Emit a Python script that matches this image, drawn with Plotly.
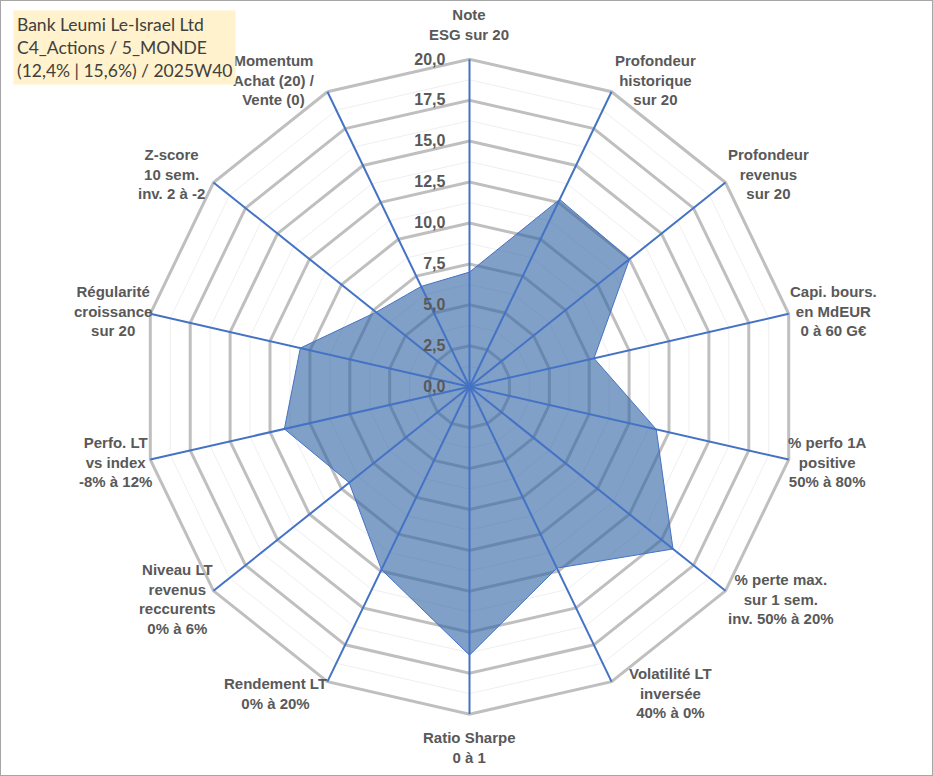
import math
import plotly.graph_objects as go

# Axes of the radar (clockwise from the top)
categories = [
    "Note<br>ESG sur 20",
    "Profondeur<br>historique<br>sur 20",
    "Profondeur<br>revenus<br>sur 20",
    "Capi. bours.<br>en MdEUR<br>0 à 60 G€",
    "% perfo 1A<br>positive<br>50% à 80%",
    "% perte max.<br>sur 1 sem.<br>inv. 50% à 20%",
    "Volatilité LT<br>inversée<br>40% à 0%",
    "Ratio Sharpe<br>0 à 1",
    "Rendement LT<br>0% à 20%",
    "Niveau LT<br>revenus<br>reccurents<br>0% à 6%",
    "Perfo. LT<br>vs index<br>-8% à 12%",
    "Régularité<br>croissance<br>sur 20",
    "Z-score<br>10 sem.<br>inv. 2 à -2",
    "Momentum<br>Achat (20) /<br>Vente (0)",
]
scores = [7.0, 12.7, 12.5, 7.8, 11.7, 15.9, 12.3, 16.4, 12.4, 9.4, 11.6, 10.6, 7.3, 6.8]

title_lines = [
    "Bank Leumi Le-Israel Ltd",
    "C4_Actions / 5_MONDE",
    "(12,4% | 15,6%) / 2025W40",
]

W, H = 933, 776
cx, cy, R = 469.5, 386.7, 327.4
dom_x = [(cx - R) / W, (cx + R) / W]
dom_y = [(H - cy - R) / H, (H - cy + R) / H]

# small horizontal nudges (px) for the category labels, same order as categories
label_nudge = [0, 0, 0, -2, -4, 0, 14, 0, -2, 0, 0, 0, -11, -14]

grey = "#595959"
closed_theta = categories + categories[:1]
closed_r = scores + scores[:1]

fig = go.Figure()

# filled series, on the middle subplot
fig.add_trace(go.Scatterpolar(
    r=closed_r, theta=closed_theta, subplot="polar2",
    mode="lines", fill="toself",
    fillcolor="rgba(52,101,164,0.62)",
    line=dict(color="#4472C4", width=1),
    hoverinfo="r+theta", showlegend=False,
))
# invisible traces so the other subplots get the same categories
for sp in ["polar", "polar3"]:
    fig.add_trace(go.Scatterpolar(
        r=[0] * len(categories), theta=categories, subplot=sp,
        mode="lines", line=dict(width=0), hoverinfo="skip", showlegend=False,
    ))

base_angular = dict(type="category", rotation=90, direction="clockwise",
                    categoryorder="array", categoryarray=categories)

fig.update_layout(
    width=W, height=H,
    margin=dict(l=0, r=0, t=0, b=0),
    paper_bgcolor="white",
    separators=", ",
    font=dict(family="Liberation Sans, Arial", color=grey),
    # bottom: faint minor rings + white background
    polar=dict(
        domain=dict(x=dom_x, y=dom_y),
        gridshape="linear",
        bgcolor="white",
        radialaxis=dict(range=[0, 20], dtick=1.25, tick0=0, showticklabels=False,
                        ticks="", showline=False, gridcolor="#EFEFEF", gridwidth=1),
        angularaxis=dict(**base_angular, showticklabels=False, ticks="",
                         showgrid=False, showline=False),
    ),
    # middle: major rings + data
    polar2=dict(
        domain=dict(x=dom_x, y=dom_y),
        gridshape="linear",
        bgcolor="rgba(0,0,0,0)",
        radialaxis=dict(range=[0, 20], dtick=2.5, tick0=0, showticklabels=False,
                        ticks="", showline=False, gridcolor="#BFBFBF", gridwidth=3),
        angularaxis=dict(**base_angular, showticklabels=False, ticks="",
                         showgrid=False, showline=True, linecolor="#BFBFBF", linewidth=3),
    ),
    # top: blue spokes and radial tick labels
    polar3=dict(
        domain=dict(x=dom_x, y=dom_y),
        gridshape="linear",
        bgcolor="rgba(0,0,0,0)",
        radialaxis=dict(range=[0, 20], dtick=2.5, tick0=0, tickformat=".1f",
                        angle=90, tickangle=90, side="counterclockwise",
                        ticks="outside", ticklen=18, tickcolor="rgba(0,0,0,0)",
                        showline=False, showgrid=False,
                        tickfont=dict(size=16, color=grey, weight="bold")),
        angularaxis=dict(**base_angular, showticklabels=False, ticks="", showline=False,
                         showgrid=True, gridcolor="#4472C4", gridwidth=1.5),
    ),
)

# category labels placed next to each outer vertex, Excel style
n = len(categories)
for i, label in enumerate(categories):
    a = math.radians(i * 360 / n)
    vx = cx + R * math.sin(a)
    vy = cy - R * math.cos(a)
    s, c = math.sin(a), math.cos(a)
    if abs(s) < 0.1:
        xanchor, xshift = "center", 0
        yanchor = "bottom" if c > 0 else "top"
        yshift = 14 if c > 0 else -13
    else:
        xanchor = "left" if s > 0 else "right"
        xshift = 1 if s > 0 else 4
        yanchor, yshift = "middle", 13 * c
    fig.add_annotation(
        xref="paper", yref="paper", x=vx / W, y=1 - vy / H,
        xanchor=xanchor, yanchor=yanchor, xshift=xshift + label_nudge[i], yshift=yshift,
        text=label, showarrow=False, align="center",
        font=dict(size=15, color=grey, weight="bold"),
    )

fig.add_annotation(
    xref="paper", yref="paper", x=13 / W, y=1 - 10 / H,
    xanchor="left", yanchor="top", align="left",
    text="<br>".join(title_lines), showarrow=False,
    bgcolor="#FFF2CC", borderpad=3,
    font=dict(family="Lato", size=17.5, color="#404040"),
)

fig.add_shape(type="rect", xref="paper", yref="paper", x0=0, y0=0, x1=1, y1=1,
              line=dict(color="#A6A6A6", width=2))

fig.write_html("out.html", config={"displayModeBar": False},
               post_script="document.body.style.margin='0';")
